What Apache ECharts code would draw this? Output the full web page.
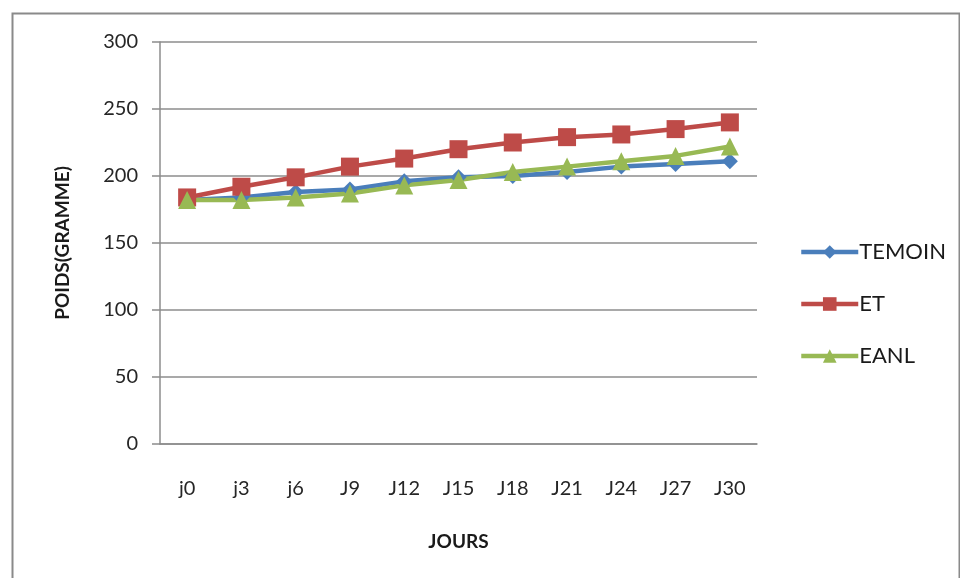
<!DOCTYPE html>
<html>
<head>
<meta charset="utf-8">
<script src="https://cdn.jsdelivr.net/npm/echarts@6/dist/echarts.min.js"></script>
<style>
  html, body { margin: 0; padding: 0; background: #ffffff; }
  #chart { width: 960px; height: 578px; }
</style>
</head>
<body>
<div id="chart"></div>
<script>
// Jours de mesure
const categories = ['j0', 'j3', 'j6', 'J9', 'J12', 'J15', 'J18', 'J21', 'J24', 'J27', 'J30'];

// Poids moyen (g) par lot
const temoin = [182, 184, 188, 190, 196, 199, 200, 203, 207, 209, 211];
const et     = [184, 192, 199, 207, 213, 220, 225, 229, 231, 235, 240];
const eanl   = [182, 182, 184, 187, 193, 197, 203, 207, 211, 215, 222];

const yTicks = [0, 50, 100, 150, 200, 250, 300];

const font = 'Lato, "Open Sans", sans-serif';
const axisGrey = '#8c8c8c';

const chart = echarts.init(document.getElementById('chart'));

function lineSeries(name, data, color, symbol, size) {
  return {
    name: name,
    type: 'line',
    data: data,
    symbol: symbol,
    symbolSize: size,
    lineStyle: { color: color, width: 4.5 },
    itemStyle: { color: color },
    emphasis: { disabled: true },
    animation: false
  };
}

chart.setOption({
  backgroundColor: '#ffffff',
  animation: false,
  graphic: [{
    type: 'rect',
    left: 10, top: 11,
    shape: { width: 947, height: 600 },
    style: { fill: 'none', stroke: '#8a8a8a', lineWidth: 2 },
    silent: true
  }],
  grid: { left: 160, right: 203, top: 42, bottom: 134 },
  xAxis: {
    type: 'category',
    data: categories,
    boundaryGap: true,
    name: 'JOURS',
    nameLocation: 'middle',
    nameGap: 88,
    nameTextStyle: { fontFamily: font, fontSize: 19, fontWeight: 'bold', color: '#1a1a1a' },
    axisLine: { lineStyle: { color: axisGrey, width: 1.5 } },
    axisTick: { show: false },
    axisLabel: { fontFamily: font, fontSize: 20, color: '#262626', margin: 35 },
    splitLine: { show: false }
  },
  yAxis: {
    type: 'value',
    min: 0, max: 300, interval: 50,
    name: 'POIDS(GRAMME)',
    nameLocation: 'middle',
    nameGap: 88,
    nameRotate: 90,
    nameTextStyle: { fontFamily: font, fontSize: 19, fontWeight: 'bold', color: '#1a1a1a' },
    axisLine: { show: true, lineStyle: { color: axisGrey, width: 1.5 } },
    axisTick: { show: true, length: 8, lineStyle: { color: axisGrey, width: 1.5 } },
    axisLabel: {
      fontFamily: font, fontSize: 20, color: '#262626', margin: 22,
      formatter: v => (yTicks.indexOf(v) >= 0 ? String(v) : '')
    },
    splitLine: { lineStyle: { color: axisGrey, width: 1.5 } }
  },
  legend: {
    orient: 'vertical',
    left: 794,
    top: 236,
    itemWidth: 57,
    itemHeight: 17,
    itemGap: 30,
    lineStyle: { width: 4.5 },
    textStyle: { fontFamily: font, fontSize: 22, color: '#1a1a1a', padding: [0, 0, 0, -4] },
    data: ['TEMOIN', 'ET', 'EANL']
  },
  series: [
    lineSeries('TEMOIN', temoin, '#4a7ebb', 'diamond', 16),
    lineSeries('ET', et, '#be4b48', 'rect', 18),
    lineSeries('EANL', eanl, '#98b954', 'triangle', 18)
  ]
});
</script>
</body>
</html>
